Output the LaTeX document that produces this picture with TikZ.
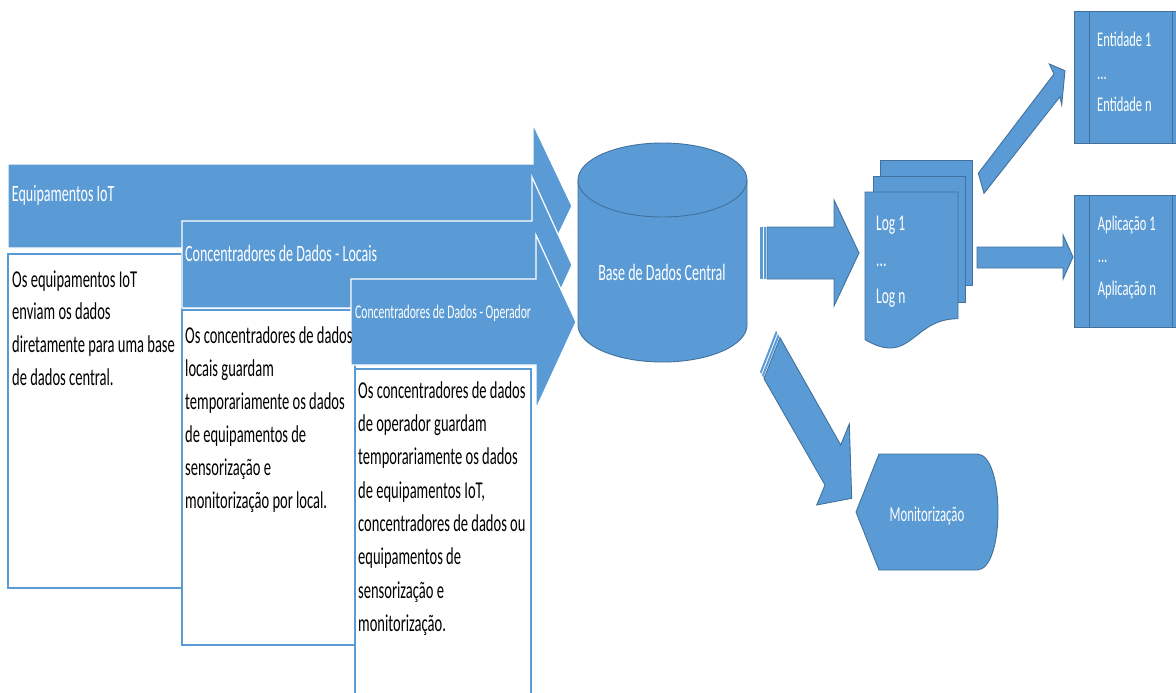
\documentclass[tikz,border=0pt]{standalone}
\usepackage{fontspec}
\setmainfont{Carlito}[FakeStretch=0.6]
\usetikzlibrary{calc}
\definecolor{office}{HTML}{5B9BD5}
\definecolor{officeline}{HTML}{41719C}
% multi-line text block whose baseline is the first line
\newcommand{\linesof}[3]{\parbox[t]{240pt}{\raggedright\fontsize{#1}{#2}\selectfont #3}}
\begin{document}
\begin{tikzpicture}[x=1pt,y=-1pt,
  bigarrow/.style={fill=office,draw=white,line width=1.2pt,line join=miter},
  textbox/.style={fill=white,draw=office,line width=1.5pt},
  blueshape/.style={fill=office,draw=officeline,line width=0.9pt,line join=miter},
  whitetext/.style={inner sep=0pt,anchor=base west,text=white},
  blacktext/.style={inner sep=0pt,anchor=base west,text=black}]
\clip (0,0) rectangle (1176,693);
\fill[white] (0,0) rectangle (1176,693);

% --- three input arrows with their description boxes ---
\draw[bigarrow] (8,164) -- (533,164) -- (533,124) -- (572,206) -- (533,288) -- (533,248) -- (8,248) -- cycle;
\draw[textbox] (8,254) rectangle (182,588);
\draw[bigarrow] (182,221) -- (532,221) -- (532,177) -- (572,265) -- (532,353) -- (532,308) -- (182,308) -- cycle;
\draw[textbox] (182,310) rectangle (355,645);
\draw[bigarrow] (351,279) -- (536,279) -- (536,235) -- (576,322) -- (536,409) -- (536,365) -- (351,365) -- cycle;
\draw[textbox] (355,369) rectangle (531,720);

\node[whitetext,font=\fontsize{23.4}{28}\selectfont] (iot) at (11.7,201.7) {Equipamentos IoT};
\node[whitetext,font=\fontsize{23.4}{28}\selectfont] (locais) at (185,261.7) {Concentradores de Dados - Locais};
\node[whitetext,font=\fontsize{19.4}{24}\selectfont] (operador) at (355,318.3) {Concentradores de Dados - Operador};

\node[blacktext] (iotdesc) at (12,287) {\linesof{24.2}{32.8}{Os equipamentos IoT\\enviam os dados\\diretamente para uma base\\de dados central.}};
\node[blacktext] (locaisdesc) at (185,343.3) {\linesof{24.2}{33}{Os concentradores de dados\\locais guardam\\temporariamente os dados\\de equipamentos de\\sensorização e\\monitorização por local.}};
\node[blacktext] (operadordesc) at (358,398.3) {\linesof{24.2}{33.3}{Os concentradores de dados\\de operador guardam\\temporariamente os dados\\de equipamentos IoT,\\concentradores de dados ou\\equipamentos de\\sensorização e\\monitorização.}};

% --- central database (can) ---
\draw[blueshape] (578,180) -- (578,325) arc[start angle=180,end angle=0,x radius=84.5,y radius=37] -- (747,180);
\draw[blueshape] (662.5,180) ellipse [x radius=84.5,y radius=37];
\node[inner sep=0pt,anchor=base,text=white,font=\fontsize{23.4}{28}\selectfont] (db) at (662,280) {Base de Dados Central};

% --- striped arrow to the logs ---
\fill[office] (760,227) rectangle (762.5,279);
\fill[office] (763.5,227) rectangle (766,279);
\draw[blueshape] (767,227) -- (834,227) -- (834,200) -- (859,253) -- (834,306) -- (834,279) -- (767,279) -- cycle;

% --- stacked log documents ---
\draw[blueshape] (880,160) rectangle (972,285);
\draw[blueshape] (873,176) rectangle (965,302);
\draw[blueshape] (865,192) -- (958,192) -- (958,318.7) .. controls (911.5,318.7) and (911.5,367) .. (865,339.6) -- cycle;
\node[whitetext] (logs) at (876,230) {\linesof{22.5}{36.7}{Log 1\\...\\Log n}};

% --- arrows from the logs ---
\draw[blueshape] (978.3,173.3) -- (1054,74) -- (1049.3,64) -- (1065,70.7) -- (1061.7,105) -- (1060,96.7) -- (984,193.3) -- cycle;
\draw[blueshape] (977,247) -- (1063,247) -- (1063,235) -- (1073,257) -- (1063,279) -- (1063,268) -- (977,268) -- cycle;

% --- consumers (predefined process boxes) ---
\draw[blueshape] (1074,11) rectangle (1188,143);
\draw[officeline,line width=0.9pt] (1089,11) -- (1089,143) (1172,11) -- (1172,143);
\node[whitetext] (ent) at (1097,46.7) {\linesof{20.9}{32.5}{Entidade 1\\...\\Entidade n}};
\draw[blueshape] (1074,195) rectangle (1188,327);
\draw[officeline,line width=0.9pt] (1089,195) -- (1089,327) (1172,195) -- (1172,327);
\node[whitetext] (app) at (1097.7,230) {\linesof{20.9}{32.5}{Aplicação 1\\...\\Aplicação n}};

% --- striped arrow to monitoring ---
\coordinate (mu) at (0.496,0.868);
\coordinate (mA) at (776,330.7);
\coordinate (mB) at (760,371.7);
\fill[office] (mA) -- ($(mA)+2.6*(mu)$) -- ($(mB)+2.6*(mu)$) -- (mB) -- cycle;
\fill[office] ($(mA)+4*(mu)$) -- ($(mA)+6.6*(mu)$) -- ($(mB)+6.6*(mu)$) -- ($(mB)+4*(mu)$) -- cycle;
\draw[blueshape] ($(mA)+8*(mu)$) -- (840.7,445) -- (849.3,424) -- (851.7,498.3) -- (816.7,505) -- (825,485) -- ($(mB)+8*(mu)$) -- cycle;

% --- monitoring display ---
\draw[blueshape] (856,512) -- (879,454) -- (977,454) .. controls (1005,454) and (1005,570) .. (977,570) -- (879,570) -- cycle;
\node[inner sep=0pt,anchor=base,text=white,font=\fontsize{21.3}{26}\selectfont] (mon) at (927,521.7) {Monitorização};
\end{tikzpicture}
\end{document}
